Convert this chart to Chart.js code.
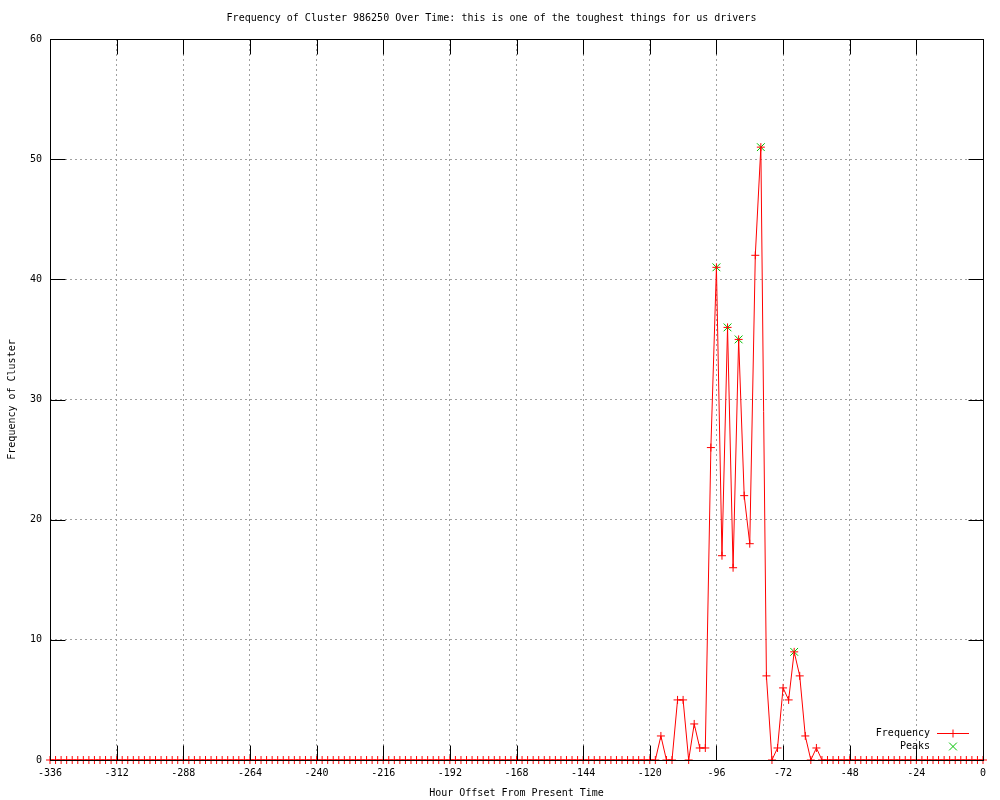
<!DOCTYPE html>
<html>
<head>
<meta charset="utf-8">
<title>Frequency of Cluster 986250 Over Time</title>
<script src="https://cdn.jsdelivr.net/npm/chart.js@4.4.0/dist/chart.umd.min.js"></script>
<style>
  body { margin: 0; background: #fff; }
  canvas { display: block; }
</style>
</head>
<body>
<canvas id="clusterChart" width="1000" height="800"></canvas>
<script>
// hour offsets, one sample every 2 hours
const hours = [
  -336,-334,-332,-330,-328,-326,-324,-322,-320,-318,-316,-314,-312,-310,-308,-306,-304,-302,-300,-298,
  -296,-294,-292,-290,-288,-286,-284,-282,-280,-278,-276,-274,-272,-270,-268,-266,-264,-262,-260,-258,
  -256,-254,-252,-250,-248,-246,-244,-242,-240,-238,-236,-234,-232,-230,-228,-226,-224,-222,-220,-218,
  -216,-214,-212,-210,-208,-206,-204,-202,-200,-198,-196,-194,-192,-190,-188,-186,-184,-182,-180,-178,
  -176,-174,-172,-170,-168,-166,-164,-162,-160,-158,-156,-154,-152,-150,-148,-146,-144,-142,-140,-138,
  -136,-134,-132,-130,-128,-126,-124,-122,-120,-118,-116,-114,-112,-110,-108,-106,-104,-102,-100,-98,
  -96,-94,-92,-90,-88,-86,-84,-82,-80,-78,-76,-74,-72,-70,-68,-66,-64,-62,-60,-58,
  -56,-54,-52,-50,-48,-46,-44,-42,-40,-38,-36,-34,-32,-30,-28,-26,-24,-22,-20,-18,
  -16,-14,-12,-10,-8,-6,-4,-2,0
];
const frequency = [
  0,0,0,0,0,0,0,0,0,0,0,0,0,0,0,0,0,0,0,0,
  0,0,0,0,0,0,0,0,0,0,0,0,0,0,0,0,0,0,0,0,
  0,0,0,0,0,0,0,0,0,0,0,0,0,0,0,0,0,0,0,0,
  0,0,0,0,0,0,0,0,0,0,0,0,0,0,0,0,0,0,0,0,
  0,0,0,0,0,0,0,0,0,0,0,0,0,0,0,0,0,0,0,0,
  0,0,0,0,0,0,0,0,0,0,2,0,0,5,5,0,3,1,1,26,
  41,17,36,16,35,22,18,42,51,7,0,1,6,5,9,7,2,0,1,0,
  0,0,0,0,0,0,0,0,0,0,0,0,0,0,0,0,0,0,0,0,
  0,0,0,0,0,0,0,0,0
];
const peakHours = [-96, -92, -88, -80, -68];
const peakValues = [41, 36, 35, 51, 9];

const xTicks = [-336, -312, -288, -264, -240, -216, -192, -168, -144, -120, -96, -72, -48, -24, 0];
const yTicks = [0, 10, 20, 30, 40, 50, 60];

const FONT = { family: "'DejaVu Sans Mono', 'Liberation Mono', monospace", size: 10 };
const RED = '#ff0000';
const GREEN = '#00c000';
const TICK = 15;

// border box, inward mirrored ticks and the little legend in the corner
const gnuplotFrame = {
  id: 'gnuplotFrame',
  afterDatasetsDraw(chart) {
    const { ctx, chartArea: a, scales: { x, y } } = chart;
    const L = Math.round(a.left) + 0.5, R = Math.round(a.right) + 0.5;
    const T = Math.round(a.top) + 0.5, B = Math.round(a.bottom) + 0.5;
    ctx.save();
    ctx.strokeStyle = '#000';
    ctx.lineWidth = 1;
    ctx.beginPath();
    xTicks.forEach(v => {
      const px = Math.round(x.getPixelForValue(v)) + 0.5;
      ctx.moveTo(px, B); ctx.lineTo(px, B - TICK);
      ctx.moveTo(px, T); ctx.lineTo(px, T + TICK);
    });
    yTicks.forEach(v => {
      const py = Math.round(y.getPixelForValue(v)) + 0.5;
      ctx.moveTo(L, py); ctx.lineTo(L + TICK, py);
      ctx.moveTo(R, py); ctx.lineTo(R - TICK, py);
    });
    ctx.stroke();
    ctx.strokeRect(L, T, R - L, B - T);

    // legend
    const ds = chart.data.datasets;
    const textRight = a.right - 53;
    const symX = a.right - 30;
    ctx.font = `${FONT.size}px ${FONT.family}`;
    ctx.fillStyle = '#000';
    ctx.textAlign = 'right';
    ctx.textBaseline = 'middle';
    ds.forEach((d, i) => {
      const ly = a.bottom - 27 + i * 13;
      ctx.fillStyle = '#000';
      ctx.fillText(d.label, textRight, ly);
      ctx.strokeStyle = d.pointBorderColor;
      ctx.fillStyle = d.pointBorderColor;
      if (d.showLine !== false) {
        ctx.beginPath();
        ctx.moveTo(symX - 16, Math.round(ly) + 0.5);
        ctx.lineTo(symX + 16, Math.round(ly) + 0.5);
        ctx.stroke();
      }
      Chart.helpers.drawPoint(ctx, {
        pointStyle: d.pointStyle, radius: d.pointRadius, borderWidth: 1, rotation: 0
      }, symX, Math.round(ly) + 0.5);
    });
    ctx.restore();
  }
};

new Chart(document.getElementById('clusterChart'), {
  type: 'line',
  data: {
    datasets: [
      {
        label: 'Frequency',
        data: hours.map((h, i) => ({ x: h, y: frequency[i] })),
        borderColor: RED,
        borderWidth: 1,
        tension: 0,
        fill: false,
        pointStyle: 'cross',
        pointRadius: 4,
        pointBorderColor: RED,
        pointBackgroundColor: RED,
        pointBorderWidth: 1,
        clip: 6,
        order: 0
      },
      {
        label: 'Peaks',
        data: peakHours.map((h, i) => ({ x: h, y: peakValues[i] })),
        showLine: false,
        pointStyle: 'crossRot',
        pointRadius: 5.5,
        pointBorderColor: GREEN,
        pointBackgroundColor: GREEN,
        pointBorderWidth: 1,
        clip: 8,
        order: 1
      }
    ]
  },
  options: {
    responsive: false,
    animation: false,
    devicePixelRatio: 1,
    events: [],
    layout: { padding: { top: 0, right: 17, bottom: 0, left: 0 } },
    plugins: {
      legend: { display: false },
      tooltip: { enabled: false },
      title: {
        display: true,
        text: 'Frequency of Cluster 986250 Over Time: this is one of the toughest things for us drivers',
        color: '#000',
        font: { ...FONT, weight: 'normal', lineHeight: 1.2 },
        padding: { top: 12, bottom: 15 }
      }
    },
    scales: {
      x: {
        type: 'linear',
        min: -336,
        max: 0,
        afterBuildTicks: s => { s.ticks = xTicks.map(v => ({ value: v })); },
        afterFit: s => { s.height = 40; },
        ticks: { color: '#000', font: FONT, padding: 7, autoSkip: false, maxRotation: 0 },
        grid: { color: '#a0a0a0', drawTicks: false, lineWidth: 1 },
        border: { display: false, dash: [2, 3] },
        title: {
          display: true,
          text: 'Hour Offset From Present Time',
          color: '#000',
          font: { ...FONT, lineHeight: 1.2 },
          padding: { top: 0, bottom: 1 }
        }
      },
      y: {
        type: 'linear',
        min: 0,
        max: 60,
        afterBuildTicks: s => { s.ticks = yTicks.map(v => ({ value: v })); },
        afterFit: s => { s.width = 50; },
        ticks: { color: '#000', font: FONT, padding: 8 },
        grid: { color: '#a0a0a0', drawTicks: false, lineWidth: 1 },
        border: { display: false, dash: [2, 3] },
        title: {
          display: true,
          text: 'Frequency of Cluster',
          color: '#000',
          font: { ...FONT, lineHeight: 1.2 },
          padding: { top: 6, bottom: 0 }
        }
      }
    }
  },
  plugins: [gnuplotFrame]
});
</script>
</body>
</html>
